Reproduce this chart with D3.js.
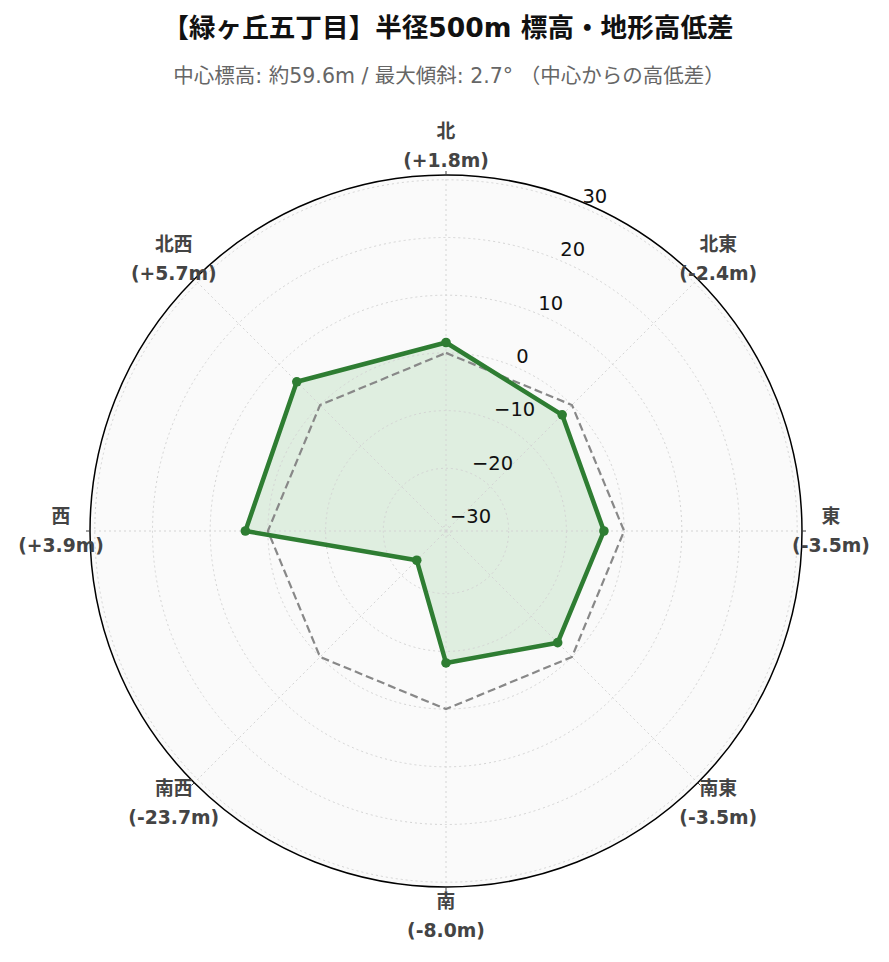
<!DOCTYPE html>
<html lang="ja">
<head>
    <meta charset="UTF-8">
    <title>緑ヶ丘五丁目 標高レーダー</title>
    <script src="https://cdn.jsdelivr.net/npm/d3@7"></script>
    <style>
        body { margin: 0; background: #fff; }
        svg text { font-family: "DejaVu Sans", "Noto Sans CJK JP", sans-serif; }
    </style>
</head>
<body>
    <svg width="889" height="962" id="mainsvg"></svg>
    <script>
        // data
        const directions = ['北', '北東', '東', '南東', '南', '南西', '西', '北西']
        const diffs = [1.8, -2.4, -3.5, -3.5, -8.0, -23.7, 3.9, 5.7]
        const zeroRef = [0, 0, 0, 0, 0, 0, 0, 0]
        const radialTicks = [-30, -20, -10, 0, 10, 20, 30]
        const radialRange = [-30.87, 30.83]
        const titleText = '【緑ヶ丘五丁目】半径500m 標高・地形高低差'
        const subText = '中心標高: 約59.6m / 最大傾斜: 2.7° （中心からの高低差）'

        const svg = d3.select('#mainsvg')
        const cx = 446, cy = 531, R = 356
        const green = '#2e7d32'

        const rScale = d3.scaleLinear().domain(radialRange).range([0, R])
        const angle = i => i * 2 * Math.PI / directions.length
        const fmt = d3.format('d')

        svg.append('text')
            .attr('x', cx + 2).attr('y', 37)
            .attr('text-anchor', 'middle')
            .attr('font-size', 26.6).attr('font-weight', 'bold')
            .attr('fill', '#111')
            .text(titleText)

        svg.append('text')
            .attr('x', cx + 3).attr('y', 83)
            .attr('text-anchor', 'middle')
            .attr('font-size', 20.5)
            .attr('fill', '#666')
            .text(subText)

        const g = svg.append('g').attr('transform', `translate(${cx},${cy})`)

        // background disc
        g.append('circle').attr('r', R).attr('fill', '#fafafa')

        // filled data area (below grid)
        const radial = d3.lineRadial()
            .angle((d, i) => angle(i))
            .radius(d => rScale(d))
            .curve(d3.curveLinearClosed)

        g.append('path').datum(diffs)
            .attr('d', radial)
            .attr('fill', 'rgba(90,180,95,0.17)')
            .attr('stroke', 'none')

        // grid
        const grid = g.append('g')
            .attr('fill', 'none')
            .attr('stroke', '#d4d4d4')
            .attr('stroke-width', 1)
            .attr('stroke-dasharray', '2,3')
        grid.selectAll('circle').data(radialTicks).join('circle')
            .attr('r', d => rScale(d))
        grid.selectAll('line').data(directions).join('line')
            .attr('x1', 0).attr('y1', 0)
            .attr('x2', (d, i) => R * Math.sin(angle(i)))
            .attr('y2', (d, i) => -R * Math.cos(angle(i)))

        // outer frame + small ticks
        g.append('circle').attr('r', R)
            .attr('fill', 'none').attr('stroke', '#000').attr('stroke-width', 1.5)
        g.append('g').selectAll('line').data(directions).join('line')
            .attr('x1', (d, i) => R * Math.sin(angle(i)))
            .attr('y1', (d, i) => -R * Math.cos(angle(i)))
            .attr('x2', (d, i) => (R + 4) * Math.sin(angle(i)))
            .attr('y2', (d, i) => -(R + 4) * Math.cos(angle(i)))
            .attr('stroke', '#444').attr('stroke-width', 1)

        // zero reference
        g.append('path').datum(zeroRef)
            .attr('d', radial)
            .attr('fill', 'none')
            .attr('stroke', '#888')
            .attr('stroke-width', 2.2)
            .attr('stroke-dasharray', '8,4')

        // data line + markers
        g.append('path').datum(diffs)
            .attr('d', radial)
            .attr('fill', 'none')
            .attr('stroke', green)
            .attr('stroke-width', 4.5)
            .attr('stroke-linejoin', 'round')

        g.selectAll('.pt').data(diffs).join('circle')
            .attr('class', 'pt')
            .attr('cx', (d, i) => rScale(d) * Math.sin(angle(i)))
            .attr('cy', (d, i) => -rScale(d) * Math.cos(angle(i)))
            .attr('r', 4.8)
            .attr('fill', green)

        // radial tick labels along 22.5deg
        const ta = Math.PI / 8
        g.selectAll('.rtick').data(radialTicks).join('text')
            .attr('class', 'rtick')
            .attr('x', d => rScale(d) * Math.sin(ta) + 2)
            .attr('y', d => -rScale(d) * Math.cos(ta) - 10)
            .attr('dominant-baseline', 'central')
            .attr('font-size', 19.5)
            .attr('fill', '#111')
            .text(d => d < 0 ? '\u2212' + fmt(-d) : fmt(d))

        // angular labels
        const labR = 385
        const lab = g.selectAll('.alab').data(directions).join('text')
            .attr('class', 'alab')
            .attr('text-anchor', 'middle')
            .attr('font-size', 18.8).attr('font-weight', 'bold')
            .attr('fill', '#444')
        lab.append('tspan')
            .attr('x', (d, i) => labR * Math.sin(angle(i)))
            .attr('y', (d, i) => -labR * Math.cos(angle(i)) - 14.5)
            .attr('dominant-baseline', 'central')
            .text(d => d)
        lab.append('tspan')
            .attr('x', (d, i) => labR * Math.sin(angle(i)))
            .attr('y', (d, i) => -labR * Math.cos(angle(i)) + 14.5)
            .attr('dominant-baseline', 'central')
            .text((d, i) => `(${diffs[i] >= 0 ? '+' : ''}${diffs[i].toFixed(1)}m)`)
    </script>
</body>
</html>
